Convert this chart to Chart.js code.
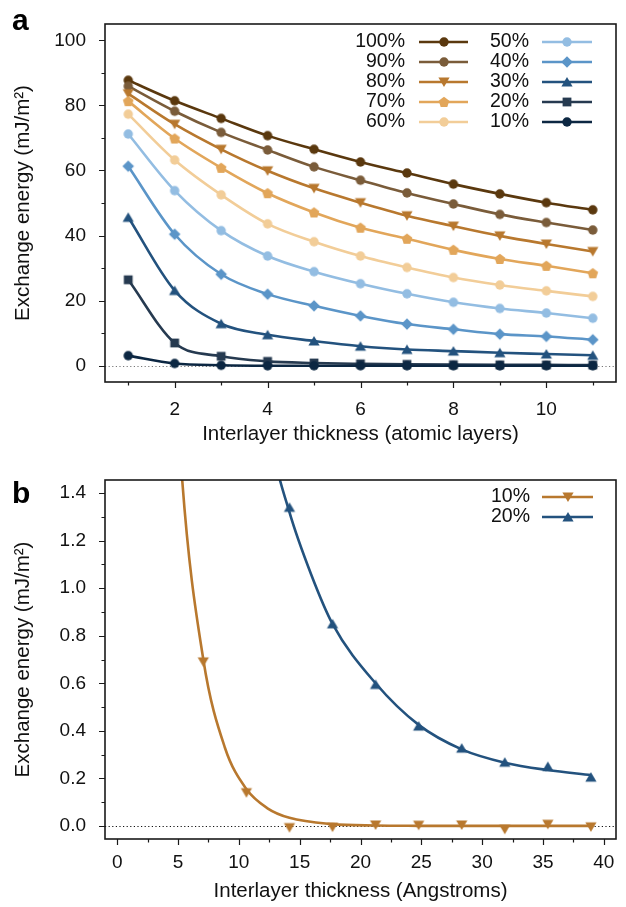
<!DOCTYPE html>
<html>
<head>
<meta charset="utf-8">
<script src="https://cdn.jsdelivr.net/npm/chart.js@4.4.0/dist/chart.umd.min.js"></script>
<style>
  html, body { margin: 0; padding: 0; background: #fff; }
  canvas { display: block; }
</style>
</head>
<body>
<canvas id="chart_a" width="626" height="460"></canvas>
<canvas id="chart_b" width="626" height="447"></canvas>
<script>
"use strict";
var FONT = '"Liberation Sans", Arial, Helvetica, sans-serif';

// interlayer thickness: atomic layers (panel a) and the same points in Angstroms (panel b)
var layers = [1, 2, 3, 4, 5, 6, 7, 8, 9, 10, 11];
var angstroms = [3.54, 7.08, 10.62, 14.16, 17.70, 21.24, 24.78, 28.32, 31.86, 35.40, 38.94];

// exchange energy (mJ/m2) for each composition
var e100 = [87.7, 81.4, 76.0, 70.7, 66.5, 62.6, 59.2, 55.8, 52.8, 50.1, 47.9];
var e90 = [85.9, 78.2, 71.7, 66.3, 61.1, 57.0, 53.1, 49.7, 46.5, 44.0, 41.7];
var e80 = [83.6, 74.2, 66.5, 59.9, 54.5, 50.1, 46.1, 42.9, 39.9, 37.4, 35.1];
var e70 = [81.3, 69.8, 60.8, 53.0, 47.1, 42.4, 39.0, 35.6, 32.8, 30.7, 28.4];
var e60 = [77.3, 63.2, 52.5, 43.6, 38.1, 33.7, 30.2, 27.1, 24.8, 23.0, 21.3];
var e50 = [71.2, 53.8, 41.5, 33.7, 28.9, 25.2, 22.1, 19.5, 17.6, 16.2, 14.6];
var e40 = [61.3, 40.4, 28.1, 22.0, 18.4, 15.3, 12.8, 11.2, 9.7, 9.0, 8.0];
var e30 = [45.6, 23.1, 12.9, 9.5, 7.6, 6.0, 5.0, 4.5, 4.0, 3.6, 3.2];
var e20 = [26.4, 7.0, 2.9, 1.34, 0.85, 0.595, 0.42, 0.327, 0.268, 0.25, 0.205];
var e10 = [3.1, 0.69, 0.14, -0.007, -0.005, 0.004, 0.003, 0.004, -0.014, 0.007, -0.004];

// fitted curves of panel b (Angstroms, mJ/m2)
var fitX10 = [3.54, 5.31, 7.08, 8.85, 10.62, 12.39, 14.16, 17.7, 21.24, 24.78, 28.32, 31.86, 35.4, 38.94];
var fit10 = [3.17, 1.48, 0.70, 0.33, 0.155, 0.073, 0.034, 0.0075, 0.0017, 0.0004, 0.0, 0.0, 0.0, 0.0];
var fitX20 = [10.62, 12.39, 14.16, 15.93, 17.7, 21.24, 24.78, 28.32, 31.86, 35.4, 38.94];
var fit20 = [2.4, 1.68, 1.32, 1.06, 0.85, 0.60, 0.425, 0.322, 0.266, 0.235, 0.214];

// tick labels (major) and minor tick marks
var aXTicks = [2, 4, 6, 8, 10];
var aXMinor = [1, 3, 5, 7, 9, 11];
var aYTicks = [0, 20, 40, 60, 80, 100];
var aYMinor = [10, 30, 50, 70, 90];
var bXTicks = [0, 5, 10, 15, 20, 25, 30, 35, 40];
var bXMinor = [2.5, 7.5, 12.5, 17.5, 22.5, 27.5, 32.5, 37.5];
var bYTicks = [0, 0.2, 0.4, 0.6, 0.8, 1.0, 1.2, 1.4];
var bYMinor = [0.1, 0.3, 0.5, 0.7, 0.9, 1.1, 1.3];

/** small canvas used as point style, so legend and plot share the same marker */
function marker(shape, color) {
  var c = document.createElement('canvas');
  c.width = 14;
  c.height = 14;
  var ctx = c.getContext('2d');
  var cx = 7, cy = 7;
  ctx.fillStyle = color;
  ctx.beginPath();
  if (shape == 'circle') {
    ctx.arc(cx, cy, 4.7, 0, Math.PI * 2);
  } else if (shape == 'square') {
    ctx.rect(cx - 4.4, cy - 4.4, 8.8, 8.8);
  } else if (shape == 'diamond') {
    ctx.moveTo(cx, cy - 5.8);
    ctx.lineTo(cx + 5.8, cy);
    ctx.lineTo(cx, cy + 5.8);
    ctx.lineTo(cx - 5.8, cy);
  } else if (shape == 'up') {
    ctx.moveTo(cx, cy - 5);
    ctx.lineTo(cx + 5.6, cy + 4.6);
    ctx.lineTo(cx - 5.6, cy + 4.6);
  } else if (shape == 'down') {
    ctx.moveTo(cx, cy + 5);
    ctx.lineTo(cx + 5.6, cy - 4.6);
    ctx.lineTo(cx - 5.6, cy - 4.6);
  } else if (shape == 'pentagon') {
    for (var i = 0; i < 5; i++) {
      var a = -Math.PI / 2 + i * 2 * Math.PI / 5;
      ctx.lineTo(cx + 5.6 * Math.cos(a), cy + 0.4 + 5.6 * Math.sin(a));
    }
  }
  ctx.closePath();
  ctx.fill();
  return c;
}

var seriesA = [
  {label: '100%', data: e100, color: 'rgb(90, 56, 14)', shape: 'circle'},
  {label: '90%', data: e90, color: 'rgb(122, 92, 58)', shape: 'circle'},
  {label: '80%', data: e80, color: 'rgb(184, 120, 46)', shape: 'down'},
  {label: '70%', data: e70, color: 'rgb(226, 166, 90)', shape: 'pentagon'},
  {label: '60%', data: e60, color: 'rgb(242, 205, 152)', shape: 'circle'},
  {label: '50%', data: e50, color: 'rgb(147, 189, 226)', shape: 'circle'},
  {label: '40%', data: e40, color: 'rgb(91, 149, 200)', shape: 'diamond'},
  {label: '30%', data: e30, color: 'rgb(35, 82, 126)', shape: 'up'},
  {label: '20%', data: e20, color: 'rgb(38, 58, 80)', shape: 'square'},
  {label: '10%', data: e10, color: 'rgb(12, 39, 66)', shape: 'circle'}
];
var seriesB = [
  {label: '10%', data: e10, fitX: fitX10, fit: fit10, color: 'rgb(184, 120, 46)', shape: 'down'},
  {label: '20%', data: e20, fitX: fitX20, fit: fit20, color: 'rgb(35, 82, 126)', shape: 'up'}
];

function xy(xs, ys) {
  return xs.map(function(x, i) { return {x: x, y: ys[i]}; });
}

// line through the points (panel a)
function makeDataset(s, xs) {
  s.marker = marker(s.shape, s.color);
  return {
    label: s.label,
    data: xy(xs, s.data),
    showLine: true,
    borderColor: s.color,
    backgroundColor: s.color,
    borderWidth: 2.6,
    pointStyle: s.marker,
    cubicInterpolationMode: 'monotone',
    capBezierPoints: false
  };
}

// fitted curve plus separate markers (panel b)
function makeFitDatasets(s, xs) {
  s.marker = marker(s.shape, s.color);
  return [{
    label: s.label + ' fit',
    data: xy(s.fitX, s.fit),
    showLine: true,
    borderColor: s.color,
    borderWidth: 2.6,
    pointRadius: 0,
    cubicInterpolationMode: 'monotone',
    capBezierPoints: false
  }, {
    label: s.label,
    data: xy(xs, s.data),
    showLine: false,
    backgroundColor: s.color,
    pointStyle: s.marker
  }];
}

// legend inside the plot: label, line, marker in the middle
var legendPlugin = {
  id: 'boxLegend',
  afterDatasetsDraw: function(chart, args, opts) {
    var ctx = chart.ctx;
    ctx.save();
    ctx.font = '19.5px ' + FONT;
    ctx.textAlign = 'right';
    ctx.textBaseline = 'middle';
    opts.series.forEach(function(s, i) {
      var col = opts.columns[Math.floor(i / opts.rows)];
      var y = opts.top + (i % opts.rows) * opts.gap;
      ctx.fillStyle = '#111';
      ctx.fillText(s.label, col.text, y);
      ctx.strokeStyle = s.color;
      ctx.lineWidth = 2.6;
      ctx.beginPath();
      ctx.moveTo(col.x0, y);
      ctx.lineTo(col.x1, y);
      ctx.stroke();
      ctx.drawImage(s.marker, Math.round((col.x0 + col.x1) / 2) - 7, y - 7);
    });
    ctx.restore();
  }
};

// frame, tick marks, dotted zero line and panel letter
var framePlugin = {
  id: 'frame',
  beforeDatasetsDraw: function(chart, args, opts) {
    var ctx = chart.ctx, area = chart.chartArea;
    var y0 = chart.scales.y.getPixelForValue(0);
    ctx.save();
    ctx.strokeStyle = opts.zeroColor;
    ctx.lineWidth = 1;
    ctx.setLineDash([1.2, 2.4]);
    ctx.beginPath();
    ctx.moveTo(area.left, Math.round(y0) + 0.5);
    ctx.lineTo(area.right, Math.round(y0) + 0.5);
    ctx.stroke();
    ctx.restore();
  },
  afterDraw: function(chart, args, opts) {
    var ctx = chart.ctx, area = chart.chartArea;
    var xs = chart.scales.x, ys = chart.scales.y;
    ctx.save();
    ctx.strokeStyle = '#1a1a1a';
    ctx.lineWidth = 1.6;
    ctx.strokeRect(area.left, area.top, area.right - area.left, area.bottom - area.top);
    ctx.lineWidth = 1.2;
    ctx.beginPath();
    [[opts.xMajor, 6], [opts.xMinor, 3.5]].forEach(function(t) {
      t[0].forEach(function(v) {
        var px = Math.round(xs.getPixelForValue(v)) + 0.5;
        ctx.moveTo(px, area.bottom);
        ctx.lineTo(px, area.bottom + t[1]);
      });
    });
    [[opts.yMajor, 6], [opts.yMinor, 3.5]].forEach(function(t) {
      t[0].forEach(function(v) {
        var py = Math.round(ys.getPixelForValue(v)) + 0.5;
        ctx.moveTo(area.left, py);
        ctx.lineTo(area.left - t[1], py);
      });
    });
    ctx.stroke();
    ctx.fillStyle = '#000';
    ctx.font = 'bold 30px ' + FONT;
    ctx.textAlign = 'left';
    ctx.textBaseline = 'alphabetic';
    ctx.fillText(opts.letter, 12, opts.letterY);
    ctx.restore();
  }
};

function axis(min, max, major, size, pad, title, titlePad, fmt) {
  return {
    type: 'linear',
    min: min,
    max: max,
    afterBuildTicks: function(scale) {
      scale.ticks = major.map(function(v) { return {value: v}; });
    },
    afterFit: function(scale) {
      if (scale.isHorizontal()) scale.height = size;
      else scale.width = size;
      // keep the plot box where it is in the figure
      scale.paddingTop = 0;
      scale.paddingBottom = 0;
      scale.paddingLeft = 0;
      scale.paddingRight = 0;
    },
    grid: {display: false, drawTicks: false},
    border: {display: false},
    ticks: {
      autoSkip: false,
      maxRotation: 0,
      padding: pad,
      color: '#111',
      font: {family: FONT, size: 19},
      callback: fmt || function(v) { return v; }
    },
    title: {
      display: true,
      text: title,
      color: '#111',
      font: {family: FONT, size: 20.5},
      padding: titlePad
    }
  };
}

const config_a = {
  type: 'scatter',
  data: {datasets: seriesA.map(function(s) { return makeDataset(s, layers); }).reverse()},
  options: {
    responsive: false,
    animation: false,
    devicePixelRatio: 1,
    layout: {padding: {left: 0, right: 10, top: 24, bottom: 0}},
    elements: {line: {capBezierPoints: false}},
    scales: {
      x: axis(0.5, 11.5, aXTicks, 78, 16, 'Interlayer thickness (atomic layers)', {top: 0, bottom: 13}),
      y: axis(-5, 105, aYTicks, 105, 19, 'Exchange energy (mJ/m²)', {top: 11, bottom: 0})
    },
    plugins: {
      legend: {display: false},
      tooltip: {enabled: false},
      boxLegend: {
        series: seriesA, rows: 5, top: 42, gap: 20,
        columns: [{text: 405, x0: 419, x1: 468}, {text: 529, x0: 542, x1: 592}]
      },
      frame: {
        zeroColor: '#777', letter: 'a', letterY: 30,
        xMajor: aXTicks, xMinor: aXMinor, yMajor: aYTicks, yMinor: aYMinor
      }
    }
  },
  plugins: [framePlugin, legendPlugin]
};

const config_b = {
  type: 'scatter',
  data: {datasets: [].concat.apply([], seriesB.map(function(s) { return makeFitDatasets(s, angstroms); }))},
  options: {
    responsive: false,
    animation: false,
    devicePixelRatio: 1,
    layout: {padding: {left: 0, right: 10, top: 20, bottom: 0}},
    elements: {line: {capBezierPoints: false}},
    scales: {
      x: axis(-1, 41, bXTicks, 68, 12, 'Interlayer thickness (Angstroms)', {top: 0, bottom: 3}),
      y: axis(-0.055, 1.455, bYTicks, 105, 19, 'Exchange energy (mJ/m²)', {top: 11, bottom: 0},
        function(v) { return v.toFixed(1); })
    },
    plugins: {
      legend: {display: false},
      tooltip: {enabled: false},
      boxLegend: {
        series: seriesB, rows: 2, top: 37, gap: 20,
        columns: [{text: 530, x0: 542, x1: 593}]
      },
      frame: {
        zeroColor: '#111', letter: 'b', letterY: 43,
        xMajor: bXTicks, xMinor: bXMinor, yMajor: bYTicks, yMinor: bYMinor
      }
    }
  },
  plugins: [framePlugin, legendPlugin]
};

const chart_a = new Chart(document.getElementById('chart_a'), config_a);
const chart_b = new Chart(document.getElementById('chart_b'), config_b);
</script>
</body>
</html>
